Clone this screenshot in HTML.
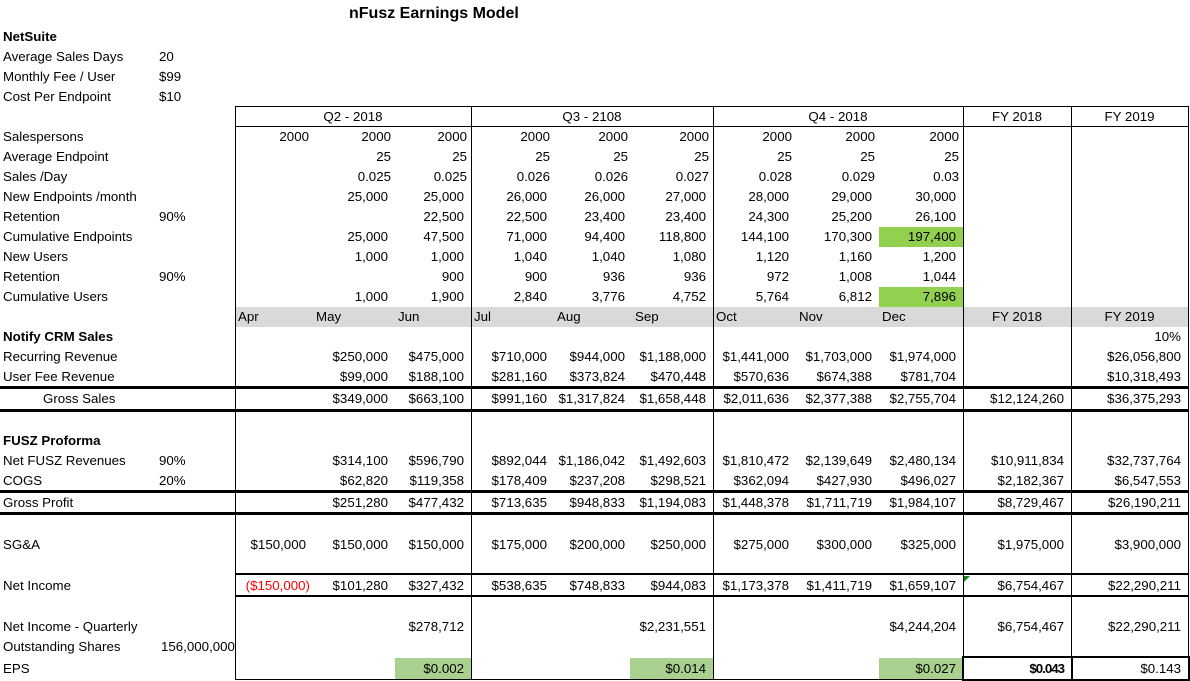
<!DOCTYPE html>
<html><head><meta charset="utf-8"><style>
body{margin:0;width:1190px;height:681px;background:#fff;position:relative;overflow:hidden;font-family:"Liberation Sans",Arial,sans-serif;font-size:13.3px;color:#000}
.r{position:absolute;left:0;width:1190px;height:20px;line-height:20px;display:flex;white-space:nowrap}
.r>span{display:block;box-sizing:border-box;text-align:right;padding-right:4px;overflow:visible;height:100%}
.r>span:nth-child(1){width:159px;text-align:left;padding-left:3px}
.r>span:nth-child(2){width:76px;text-align:left;padding-left:0}
.r>span:nth-child(3){width:78px}
.r>span:nth-child(4){width:82px}
.r>span:nth-child(5){width:76px}
.r>span:nth-child(6){width:83px}
.r>span:nth-child(7){width:78px}
.r>span:nth-child(8){width:81px}
.r>span:nth-child(9){width:83px}
.r>span:nth-child(10){width:83px}
.r>span:nth-child(11){width:84px}
.r>span:nth-child(12){width:108px;padding-right:7px}
.r>span:nth-child(13){width:117px;padding-right:7px}
.n>span:nth-child(n+3){padding-right:7px}
.n>span:nth-child(n+12){padding-right:7px}
.b{font-weight:bold}
.h{position:absolute;background:#000}
.v{position:absolute;background:#000;width:1px}
.m>span:nth-child(n+3):nth-child(-n+11){text-align:left;padding-left:3px}
</style></head><body>
<div style="position:absolute;left:235px;top:307px;width:953px;height:20px;background:#d9d9d9"></div>
<div style="position:absolute;left:879px;top:227px;width:84px;height:20px;background:#92d050"></div>
<div style="position:absolute;left:879px;top:287px;width:84px;height:20px;background:#92d050"></div>
<div style="position:absolute;left:395px;top:658px;width:76px;height:21px;background:#a9d08e"></div>
<div style="position:absolute;left:630px;top:658px;width:83px;height:21px;background:#a9d08e"></div>
<div style="position:absolute;left:879px;top:658px;width:84px;height:21px;background:#a9d08e"></div>

<div style="position:absolute;left:349px;top:4px;font-weight:bold;font-size:16px;line-height:20px">nFusz Earnings Model</div>

<div class="r" style="top:27px"><span class="b">NetSuite</span></div>
<div class="r" style="top:47px"><span>Average Sales Days</span><span>20</span></div>
<div class="r" style="top:67px"><span>Monthly Fee / User</span><span>$99</span></div>
<div class="r" style="top:87px"><span>Cost Per Endpoint</span><span>$10</span></div>

<div style="position:absolute;top:107px;height:20px;line-height:20px;left:235px;width:236px;text-align:center">Q2 - 2018</div>
<div style="position:absolute;top:107px;height:20px;line-height:20px;left:471px;width:242px;text-align:center">Q3 - 2108</div>
<div style="position:absolute;top:107px;height:20px;line-height:20px;left:713px;width:250px;text-align:center">Q4 - 2018</div>
<div style="position:absolute;top:107px;height:20px;line-height:20px;left:963px;width:108px;text-align:center">FY 2018</div>
<div style="position:absolute;top:107px;height:20px;line-height:20px;left:1071px;width:117px;text-align:center">FY 2019</div>

<div class="r" style="top:127px"><span>Salespersons</span><span></span><span>2000</span><span>2000</span><span>2000</span><span>2000</span><span>2000</span><span>2000</span><span>2000</span><span>2000</span><span>2000</span></div>
<div class="r" style="top:147px"><span>Average Endpoint</span><span></span><span></span><span>25</span><span>25</span><span>25</span><span>25</span><span>25</span><span>25</span><span>25</span><span>25</span></div>
<div class="r" style="top:167px"><span>Sales /Day</span><span></span><span></span><span>0.025</span><span>0.025</span><span>0.026</span><span>0.026</span><span>0.027</span><span>0.028</span><span>0.029</span><span>0.03</span></div>
<div class="r n" style="top:187px"><span>New Endpoints /month</span><span></span><span></span><span>25,000</span><span>25,000</span><span>26,000</span><span>26,000</span><span>27,000</span><span>28,000</span><span>29,000</span><span>30,000</span></div>
<div class="r n" style="top:207px"><span>Retention</span><span>90%</span><span></span><span></span><span>22,500</span><span>22,500</span><span>23,400</span><span>23,400</span><span>24,300</span><span>25,200</span><span>26,100</span></div>
<div class="r n" style="top:227px"><span>Cumulative Endpoints</span><span></span><span></span><span>25,000</span><span>47,500</span><span>71,000</span><span>94,400</span><span>118,800</span><span>144,100</span><span>170,300</span><span>197,400</span></div>
<div class="r n" style="top:247px"><span>New Users</span><span></span><span></span><span>1,000</span><span>1,000</span><span>1,040</span><span>1,040</span><span>1,080</span><span>1,120</span><span>1,160</span><span>1,200</span></div>
<div class="r n" style="top:267px"><span>Retention</span><span>90%</span><span></span><span></span><span>900</span><span>900</span><span>936</span><span>936</span><span>972</span><span>1,008</span><span>1,044</span></div>
<div class="r n" style="top:287px"><span>Cumulative Users</span><span></span><span></span><span>1,000</span><span>1,900</span><span>2,840</span><span>3,776</span><span>4,752</span><span>5,764</span><span>6,812</span><span>7,896</span></div>
<div class="r m" style="top:307px"><span></span><span></span><span>Apr</span><span>May</span><span>Jun</span><span>Jul</span><span>Aug</span><span>Sep</span><span>Oct</span><span>Nov</span><span>Dec</span><span style="text-align:center;padding:0">FY 2018</span><span style="text-align:center;padding:0">FY 2019</span></div>
<div class="r n" style="top:327px"><span class="b">Notify CRM Sales</span><span></span><span></span><span></span><span></span><span></span><span></span><span></span><span></span><span></span><span></span><span></span><span>10%</span></div>
<div class="r n" style="top:347px"><span>Recurring Revenue</span><span></span><span></span><span>$250,000</span><span>$475,000</span><span>$710,000</span><span>$944,000</span><span>$1,188,000</span><span>$1,441,000</span><span>$1,703,000</span><span>$1,974,000</span><span></span><span>$26,056,800</span></div>
<div class="r n" style="top:367px"><span>User Fee Revenue</span><span></span><span></span><span>$99,000</span><span>$188,100</span><span>$281,160</span><span>$373,824</span><span>$470,448</span><span>$570,636</span><span>$674,388</span><span>$781,704</span><span></span><span>$10,318,493</span></div>
<div class="r n" style="top:389px"><span style="padding-left:43px;overflow:visible">Gross Sales</span><span></span><span></span><span>$349,000</span><span>$663,100</span><span>$991,160</span><span>$1,317,824</span><span>$1,658,448</span><span>$2,011,636</span><span>$2,377,388</span><span>$2,755,704</span><span>$12,124,260</span><span>$36,375,293</span></div>
<div class="r" style="top:431px"><span class="b">FUSZ Proforma</span></div>
<div class="r n" style="top:451px"><span>Net FUSZ Revenues</span><span>90%</span><span></span><span>$314,100</span><span>$596,790</span><span>$892,044</span><span>$1,186,042</span><span>$1,492,603</span><span>$1,810,472</span><span>$2,139,649</span><span>$2,480,134</span><span>$10,911,834</span><span>$32,737,764</span></div>
<div class="r n" style="top:471px"><span>COGS</span><span>20%</span><span></span><span>$62,820</span><span>$119,358</span><span>$178,409</span><span>$237,208</span><span>$298,521</span><span>$362,094</span><span>$427,930</span><span>$496,027</span><span>$2,182,367</span><span>$6,547,553</span></div>
<div class="r n" style="top:493px"><span>Gross Profit</span><span></span><span></span><span>$251,280</span><span>$477,432</span><span>$713,635</span><span>$948,833</span><span>$1,194,083</span><span>$1,448,378</span><span>$1,711,719</span><span>$1,984,107</span><span>$8,729,467</span><span>$26,190,211</span></div>
<div class="r n" style="top:535px"><span>SG&amp;A</span><span></span><span>$150,000</span><span>$150,000</span><span>$150,000</span><span>$175,000</span><span>$200,000</span><span>$250,000</span><span>$275,000</span><span>$300,000</span><span>$325,000</span><span>$1,975,000</span><span>$3,900,000</span></div>
<div class="r n" style="top:576px"><span>Net Income</span><span></span><span style="color:#ff0000;padding-right:3px">($150,000)</span><span>$101,280</span><span>$327,432</span><span>$538,635</span><span>$748,833</span><span>$944,083</span><span>$1,173,378</span><span>$1,411,719</span><span>$1,659,107</span><span>$6,754,467</span><span>$22,290,211</span></div>
<div class="r n" style="top:617px"><span>Net Income - Quarterly</span><span></span><span></span><span></span><span>$278,712</span><span></span><span></span><span>$2,231,551</span><span></span><span></span><span>$4,244,204</span><span>$6,754,467</span><span>$22,290,211</span></div>
<div class="r" style="top:637px"><span>Outstanding Shares</span><span style="padding-left:2px">156,000,000</span></div>
<div class="r n" style="top:659px"><span>EPS</span><span></span><span></span><span></span><span>$0.002</span><span></span><span></span><span>$0.014</span><span></span><span></span><span>$0.027</span><span style="font-weight:bold;letter-spacing:-1px">$0.043</span><span>$0.143</span></div>

<div class="h" style="left:235px;top:106px;width:954px;height:1px"></div>
<div class="h" style="left:235px;top:126px;width:954px;height:1px"></div>
<div class="h" style="left:0;top:386px;width:1189px;height:3px"></div>
<div class="h" style="left:0;top:409px;width:1189px;height:3px"></div>
<div class="h" style="left:0;top:490px;width:1189px;height:3px"></div>
<div class="h" style="left:0;top:512px;width:1189px;height:3px"></div>
<div class="h" style="left:235px;top:573px;width:954px;height:2px"></div>
<div class="h" style="left:235px;top:595px;width:954px;height:2px"></div>
<div class="h" style="left:235px;top:679px;width:954px;height:1px"></div>
<div class="v" style="left:235px;top:106px;height:574px"></div>
<div class="v" style="left:471px;top:106px;height:574px"></div>
<div class="v" style="left:713px;top:106px;height:574px"></div>
<div class="v" style="left:963px;top:106px;height:574px"></div>
<div class="v" style="left:1071px;top:106px;height:574px"></div>
<div class="v" style="left:1188px;top:106px;height:574px"></div>
<div style="position:absolute;left:962px;top:656px;width:107px;height:21px;border:2px solid #000"></div>
<div style="position:absolute;left:1071px;top:656px;width:115px;height:21px;border:2px solid #000"></div>
<div style="position:absolute;left:964px;top:576px;width:0;height:0;border-top:6px solid #1a7f1a;border-right:6px solid transparent"></div>
</body></html>
